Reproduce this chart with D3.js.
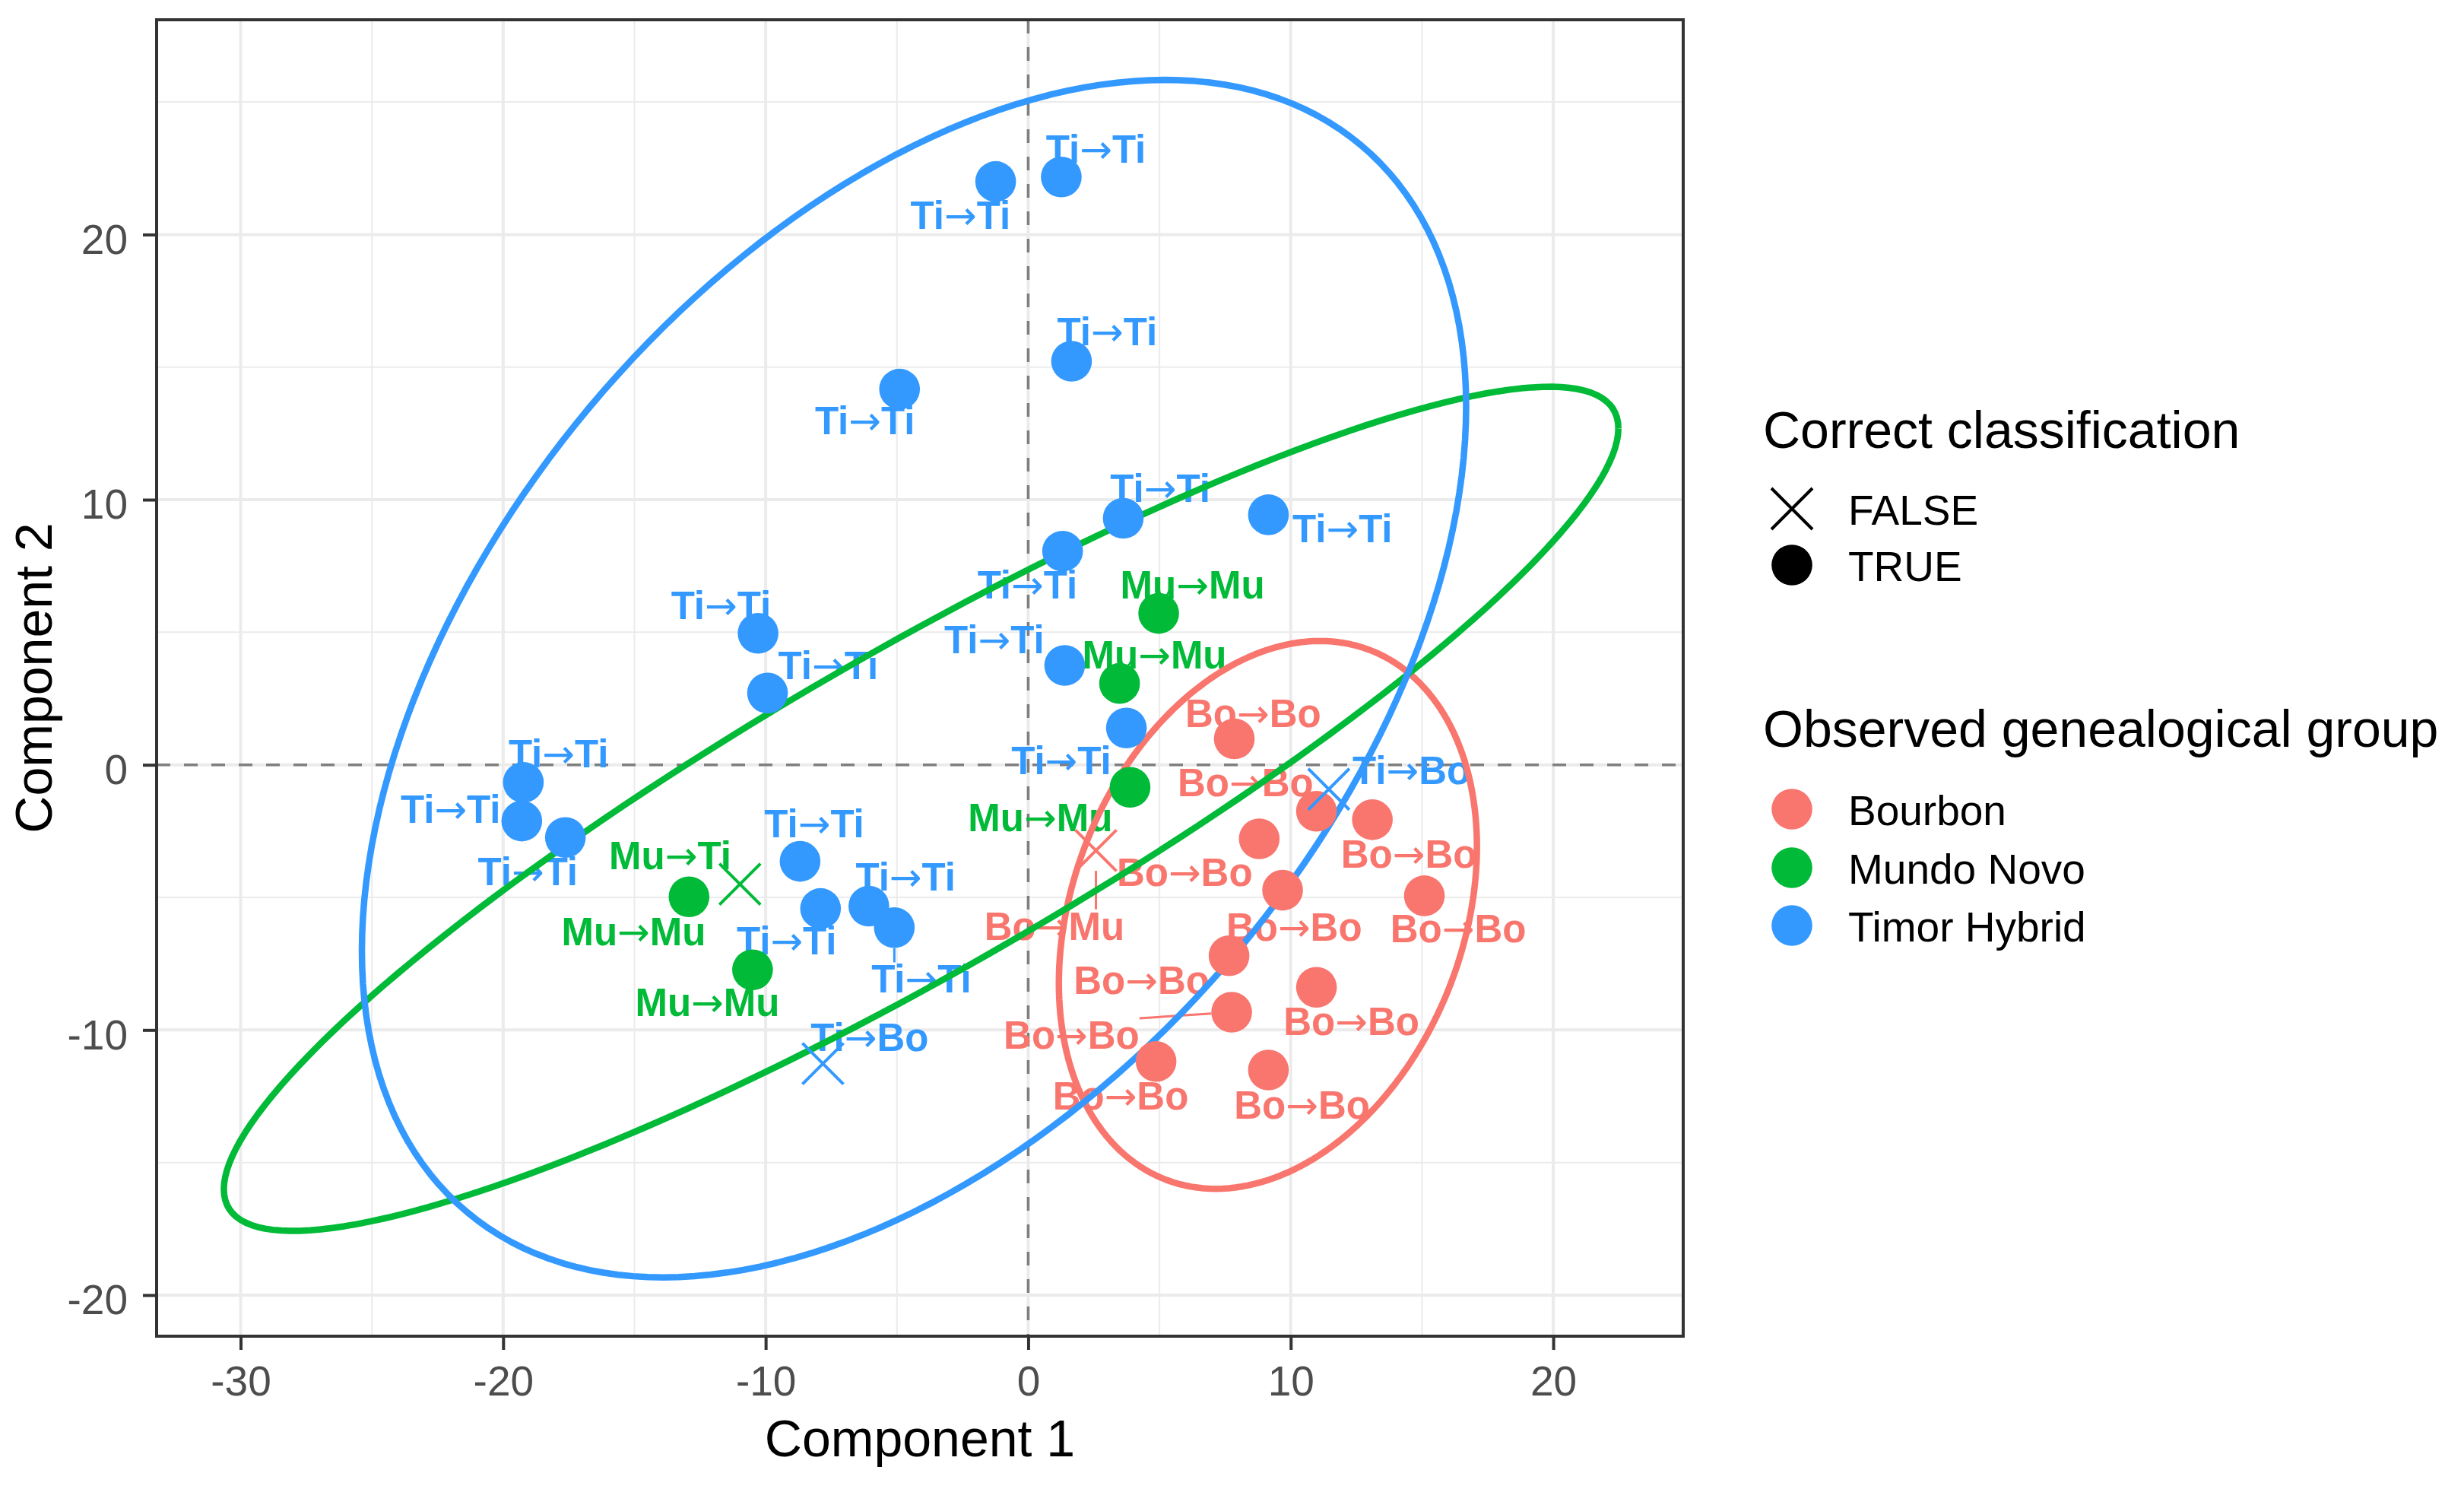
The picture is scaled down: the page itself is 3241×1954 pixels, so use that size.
<!DOCTYPE html>
<html><head><meta charset="utf-8">
<script src="https://cdn.jsdelivr.net/npm/d3@7"></script>
<style>body{margin:0;background:#fff}</style>
</head><body>
<script>
// ---------------- DATA ----------------
const groupNames = ["Bourbon", "Mundo Novo", "Timor Hybrid"];
const groupAbbr = ["Bo", "Mu", "Ti"];
const groupColors = ["#F8766D", "#00BA38", "#3399FF"];

const pointX = [-1.24, 1.26, 1.65, -4.90, 3.62, 9.15, 1.31, -10.29, -9.93, 1.39, 3.74, -19.23, -19.29, -17.63, -8.69, -7.91, -6.07, -5.10,
  11.45, -7.82,
  4.97, 3.48, 3.88, -12.92, -10.50, -10.98,
  7.85, 10.98, 13.11, 8.80, 9.69, 15.09, 7.65, 10.98, 7.75, 4.87, 9.15, 2.58];
const pointY = [22.00, 22.17, 15.22, 14.17, 9.30, 9.43, 8.06, 4.96, 2.71, 3.75, 1.39, -0.66, -2.12, -2.74, -3.64, -5.42, -5.33, -6.14,
  -0.92, -11.27,
  5.71, 3.07, -0.85, -4.98, -7.73, -4.50,
  0.98, -1.75, -2.07, -2.79, -4.73, -4.94, -7.20, -8.39, -9.33, -11.19, -11.51, -3.23];
const observed = ["Ti","Ti","Ti","Ti","Ti","Ti","Ti","Ti","Ti","Ti","Ti","Ti","Ti","Ti","Ti","Ti","Ti","Ti",
  "Ti","Ti",
  "Mu","Mu","Mu","Mu","Mu","Mu",
  "Bo","Bo","Bo","Bo","Bo","Bo","Bo","Bo","Bo","Bo","Bo","Bo"];
const predicted = ["Ti","Ti","Ti","Ti","Ti","Ti","Ti","Ti","Ti","Ti","Ti","Ti","Ti","Ti","Ti","Ti","Ti","Ti",
  "Bo","Bo",
  "Mu","Mu","Mu","Mu","Mu","Ti",
  "Bo","Bo","Bo","Bo","Bo","Bo","Bo","Bo","Bo","Bo","Bo","Mu"];
const labelX = [-2.58, 2.58, 3.01, -6.22, 5.03, 11.97, -0.03, -11.70, -7.62, -1.29, 1.26, -17.89, -22.00, -19.06, -8.15, -9.20, -4.67, -4.07,
  14.60, -6.04,
  6.26, 4.81, 0.46, -15.03, -12.22, -13.64,
  8.57, 8.28, 14.50, 5.96, 10.13, 16.38, 4.32, 12.31, 1.65, 3.52, 10.43, 1.00];
const labelY = [20.72, 23.22, 16.33, 12.97, 10.42, 8.90, 6.80, 6.00, 3.74, 4.73, 0.16, 0.43, -1.66, -4.03, -2.21, -6.63, -4.23, -8.08,
  -0.20, -10.29,
  6.80, 4.16, -1.98, -6.28, -8.95, -3.41,
  1.93, -0.66, -3.36, -4.05, -6.11, -6.18, -8.12, -9.68, -10.19, -12.48, -12.83, -6.08];

// ellipse (stat_ellipse) centre and shape matrix per group
const ellipseGroup = ["Bo", "Mu", "Ti"];
const ellipseCX = [9.13, -4.08, -4.35];
const ellipseCY = [-5.66, -1.66, 3.25];
const ellipseSxx = [63.4, 705.4, 442.3];
const ellipseSyy = [106.7, 253.4, 509.9];
const ellipseSxy = [20.5, 381.0, 216.0];

const xTicks = [-30, -20, -10, 0, 10, 20];
const yTicks = [-20, -10, 0, 10, 20];
const xMinor = [-25, -15, -5, 5, 15];
const yMinor = [-15, -5, 5, 15, 25];
const legendShapeLabels = ["FALSE", "TRUE"];

// ---------------- DRAW ----------------
const W = 3241, H = 1954;
const FONT = "'Liberation Sans', Arial, Helvetica, sans-serif";
const svg = d3.select("body").append("svg").attr("width", W).attr("height", H)
  .style("font-family", FONT);
svg.append("rect").attr("width", W).attr("height", H).attr("fill", "#fff");

const P = {left: 206, right: 2214, top: 26, bottom: 1757};
const x = d3.scaleLinear().domain([-33.2, 24.95]).range([P.left, P.right]);
const y = d3.scaleLinear().domain([-21.55, 28.1]).range([P.bottom, P.top]);
const colorOf = d3.scaleOrdinal().domain(groupAbbr).range(groupColors);

svg.append("defs").append("clipPath").attr("id", "clip")
  .append("rect").attr("x", P.left).attr("y", P.top).attr("width", P.right - P.left).attr("height", P.bottom - P.top);

// grid
const grid = svg.append("g");
grid.selectAll(".xm").data(xMinor).join("line")
  .attr("x1", d => x(d)).attr("x2", d => x(d)).attr("y1", P.top).attr("y2", P.bottom)
  .attr("stroke", "#EBEBEB").attr("stroke-width", 2);
grid.selectAll(".ym").data(yMinor).join("line")
  .attr("y1", d => y(d)).attr("y2", d => y(d)).attr("x1", P.left).attr("x2", P.right)
  .attr("stroke", "#EBEBEB").attr("stroke-width", 2);
grid.selectAll(".xM").data(xTicks).join("line")
  .attr("x1", d => x(d)).attr("x2", d => x(d)).attr("y1", P.top).attr("y2", P.bottom)
  .attr("stroke", "#EBEBEB").attr("stroke-width", 4);
grid.selectAll(".yM").data(yTicks).join("line")
  .attr("y1", d => y(d)).attr("y2", d => y(d)).attr("x1", P.left).attr("x2", P.right)
  .attr("stroke", "#EBEBEB").attr("stroke-width", 4);

// reference dashed lines
const ref = svg.append("g").attr("clip-path", "url(#clip)");
ref.append("line").attr("x1", x(0)).attr("x2", x(0)).attr("y1", P.top).attr("y2", P.bottom)
  .attr("stroke", "#7F7F7F").attr("stroke-width", 3.5).attr("stroke-dasharray", "18,18");
ref.append("line").attr("y1", y(0)).attr("y2", y(0)).attr("x1", P.left).attr("x2", P.right)
  .attr("stroke", "#7F7F7F").attr("stroke-width", 3.5).attr("stroke-dasharray", "18,18");

const pts = pointX.map((v, i) => ({
  x: v, y: pointY[i], obs: observed[i], pred: predicted[i],
  correct: observed[i] === predicted[i], lx: labelX[i], ly: labelY[i]
}));

// labels (text repel)
const R = 26.8;
const lab = svg.append("g").attr("clip-path", "url(#clip)");
const segG = lab.append("g");
lab.selectAll("text").data(pts).join("text")
  .attr("x", d => x(d.lx)).attr("y", d => y(d.ly) + 18)
  .attr("text-anchor", "middle").attr("font-weight", "bold").attr("font-size", 51)
  .attr("fill", d => colorOf(d.obs))
  .each(function (d) {
    const t = d3.select(this);
    t.append("tspan").text(d.obs);
    t.append("tspan").attr("font-family", "'DejaVu Sans', sans-serif").attr("font-weight", "normal")
      .attr("font-size", 51).text("\u2192");
    t.append("tspan").text(d.pred);
  })
  .each(function (d) {
    const b = this.getBBox();
    const px = x(d.x), py = y(d.y);
    const nx = Math.max(b.x, Math.min(px, b.x + b.width));
    const ny = Math.max(b.y + b.height * 0.12, Math.min(py, b.y + b.height * 0.9));
    const dist = Math.hypot(nx - px, ny - py);
    if (dist > 40) {
      const ux = (nx - px) / dist, uy = (ny - py) / dist;
      segG.append("line")
        .attr("x1", px + ux * R).attr("y1", py + uy * R)
        .attr("x2", nx).attr("y2", ny)
        .attr("stroke", colorOf(d.obs)).attr("stroke-width", 3);
    }
  });

// ellipses
const ell = svg.append("g").attr("clip-path", "url(#clip)");
const lineGen = d3.line().x(d => x(d[0])).y(d => y(d[1]));
ellipseGroup.forEach((g, i) => {
  const L11 = Math.sqrt(ellipseSxx[i]);
  const L21 = ellipseSxy[i] / L11;
  const L22 = Math.sqrt(ellipseSyy[i] - L21 * L21);
  const poly = d3.range(0, 201).map(k => {
    const t = 2 * Math.PI * k / 200;
    return [ellipseCX[i] + L11 * Math.cos(t), ellipseCY[i] + L21 * Math.cos(t) + L22 * Math.sin(t)];
  });
  ell.append("path").attr("d", lineGen(poly)).attr("fill", "none")
    .attr("stroke", colorOf(g)).attr("stroke-width", 8.5).attr("stroke-linejoin", "round");
});

// points
const ptsG = svg.append("g").attr("clip-path", "url(#clip)");
const crossPath = "M-27,-27L27,27M-27,27L27,-27";
ptsG.selectAll("circle").data(pts.filter(d => d.correct)).join("circle")
  .attr("cx", d => x(d.x)).attr("cy", d => y(d.y)).attr("r", R)
  .attr("fill", d => colorOf(d.obs));
ptsG.selectAll("path").data(pts.filter(d => !d.correct)).join("path")
  .attr("transform", d => `translate(${x(d.x)},${y(d.y)})`)
  .attr("d", crossPath).attr("fill", "none")
  .attr("stroke", d => colorOf(d.obs)).attr("stroke-width", 4);

// axes
const xAxis = svg.append("g").attr("transform", `translate(0,${P.bottom})`)
  .call(d3.axisBottom(x).tickValues(xTicks).tickSize(18).tickPadding(21).tickFormat(d3.format("d")));
const yAxis = svg.append("g").attr("transform", `translate(${P.left},0)`)
  .call(d3.axisLeft(y).tickValues(yTicks).tickSize(18).tickPadding(20).tickFormat(d3.format("d")));
[xAxis, yAxis].forEach(a => {
  a.select(".domain").remove();
  a.selectAll(".tick line").attr("stroke", "#333333").attr("stroke-width", 4);
  a.selectAll(".tick text").attr("font-size", 55).attr("fill", "#4D4D4D").attr("font-family", FONT);
});
yAxis.selectAll(".tick text").attr("dy", "0.45em");
xAxis.selectAll(".tick text").text(d => d < 0 ? "-" + Math.abs(d) : d);
yAxis.selectAll(".tick text").text(d => d < 0 ? "-" + Math.abs(d) : d);

// panel border
svg.append("rect").attr("x", P.left).attr("y", P.top)
  .attr("width", P.right - P.left).attr("height", P.bottom - P.top)
  .attr("fill", "none").attr("stroke", "#333333").attr("stroke-width", 4);

// axis titles
svg.append("text").attr("x", (P.left + P.right) / 2).attr("y", 1915)
  .attr("text-anchor", "middle").attr("font-size", 68).attr("fill", "#000").text("Component 1");
svg.append("text").attr("transform", `translate(68,${(P.top + P.bottom) / 2}) rotate(-90)`)
  .attr("text-anchor", "middle").attr("font-size", 68).attr("fill", "#000").text("Component 2");

// legends
const lg = svg.append("g");
const LX = 2319, KX = 2357, TX = 2431;
lg.append("text").attr("x", LX).attr("y", 589).attr("font-size", 68).text("Correct classification");
const shapeRowsY = [669, 743];
legendShapeLabels.forEach((s, i) => {
  if (s === "FALSE") {
    lg.append("path").attr("transform", `translate(${KX},${shapeRowsY[i]})`).attr("d", crossPath)
      .attr("fill", "none").attr("stroke", "#000").attr("stroke-width", 4);
  } else {
    lg.append("circle").attr("cx", KX).attr("cy", shapeRowsY[i]).attr("r", R).attr("fill", "#000");
  }
  lg.append("text").attr("x", TX).attr("y", shapeRowsY[i] + 21).attr("font-size", 55).text(s);
});
lg.append("text").attr("x", LX).attr("y", 982).attr("font-size", 68).text("Observed genealogical group");
const colRowsY = [1064, 1141, 1217];
groupNames.forEach((g, i) => {
  lg.append("circle").attr("cx", KX).attr("cy", colRowsY[i]).attr("r", R).attr("fill", groupColors[i]);
  lg.append("text").attr("x", TX).attr("y", colRowsY[i] + 21).attr("font-size", 55).text(g);
});
</script>
</body></html>
